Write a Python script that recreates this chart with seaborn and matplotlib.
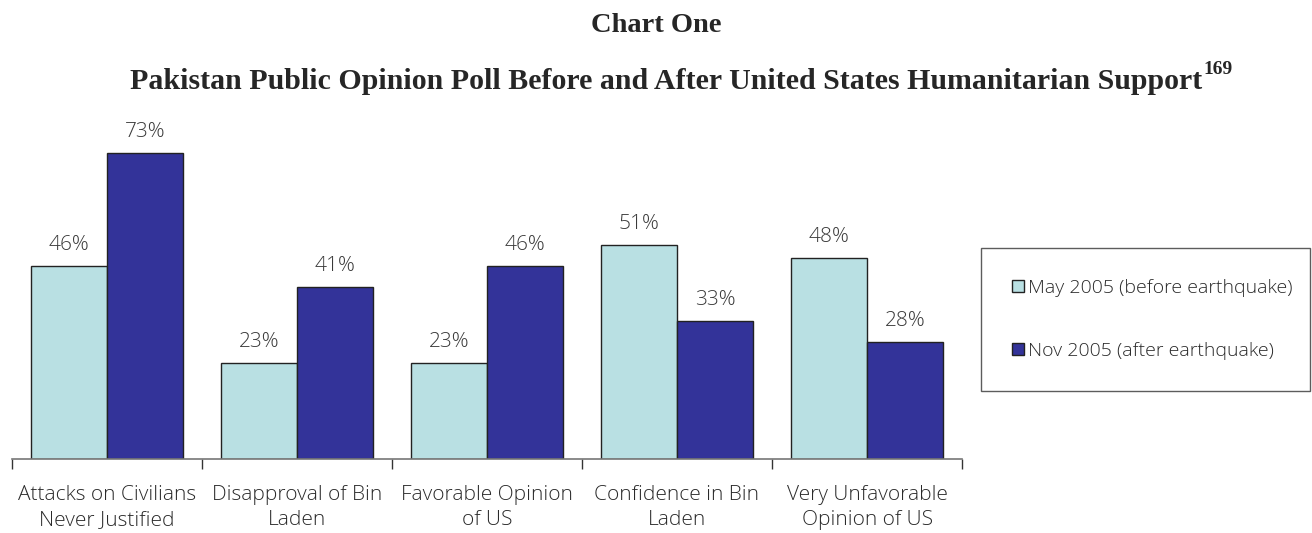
import matplotlib
matplotlib.use("Agg")
import matplotlib.pyplot as plt
import seaborn as sns
import pandas as pd
import numpy as np

categories = ["Attacks on Civilians\nNever Justified", "Disapproval of Bin\nLaden",
              "Favorable Opinion\nof US", "Confidence in Bin\nLaden",
              "Very Unfavorable\nOpinion of US"]
series = ["May 2005 (before earthquake)", "Nov 2005 (after earthquake)"]
may_2005 = [46, 23, 23, 51, 48]
nov_2005 = [73, 41, 46, 33, 28]
colors = ["#B9E0E3", "#333399"]

df = pd.DataFrame({
    "category": categories * 2,
    "series": [series[0]] * 5 + [series[1]] * 5,
    "value": may_2005 + nov_2005,
})

sns.set_theme(style="white")
plt.rcParams['font.family'] = ['Open Sans', 'DejaVu Sans']

fig = plt.figure(figsize=(13.12, 5.33), dpi=100)
ax = fig.add_axes([12/1312, 1-459/533, 950/1312, (80*4.19)/533])

sns.barplot(data=df, x="category", y="value", hue="series", order=categories,
            hue_order=series, palette=colors, width=0.8, edgecolor="#222222",
            linewidth=1.0, ax=ax, legend=True, saturation=1)

for cont in ax.containers:
    ax.bar_label(cont, labels=[f"{int(v)}%" for v in cont.datavalues], padding=8,
                 fontsize=15, color="#3a3a3a", fontweight="light")

ax.set_ylim(0, 80)
ax.set_xlim(-0.5, 4.5)
ax.set_xlabel("")
ax.set_ylabel("")
ax.set_yticks([])
for s in ["top", "left", "right"]:
    ax.spines[s].set_visible(False)
ax.spines["bottom"].set_color("#777777")
ax.spines["bottom"].set_linewidth(1.2)

ax.set_xticks(np.arange(-0.5, 5, 1.0))
ax.set_xticklabels([])
ax.tick_params(axis="x", which="major", direction="out", length=7, width=1, color="#333333", bottom=True)
ax.set_xticks(np.arange(5), minor=True)
ax.set_xticklabels(categories, minor=True, fontsize=15, color="#2a2a2a", linespacing=1.3,
                   fontweight="light")
ax.tick_params(axis="x", which="minor", length=0, pad=19)

leg = ax.legend(loc="upper left", bbox_to_anchor=(981/1312, 1-393/533, 329/1312, 145/533),
                bbox_transform=fig.transFigure, mode="expand", frameon=True,
                fontsize=14, labelspacing=2.3, handlelength=0.6, handleheight=0.6,
                handletextpad=0.2, borderpad=1.6, borderaxespad=0, fancybox=False)
leg.get_frame().set_edgecolor("#333333")
leg.get_frame().set_linewidth(1.0)
for t in leg.get_texts():
    t.set_color("#2a2a2a")
    t.set_fontweight("light")

fig.text(0.5, 1-25/533, "Chart One", ha="center", va="center",
         fontsize=20.5, fontweight="bold", family="Liberation Serif")
sub = fig.text(0.5 + 10/1312, 1-81/533, "Pakistan Public Opinion Poll Before and After United States Humanitarian Support",
               ha="center", va="center", fontsize=21.5, fontweight="bold", family="Liberation Serif")
fig.canvas.draw()
bb = sub.get_window_extent()
fig.text(bb.x1 / 1312 + 1/1312, 1-70/533, "169", ha="left", va="center",
         fontsize=14, fontweight="bold", family="Liberation Serif")

fig.savefig("out.png", dpi=100)
